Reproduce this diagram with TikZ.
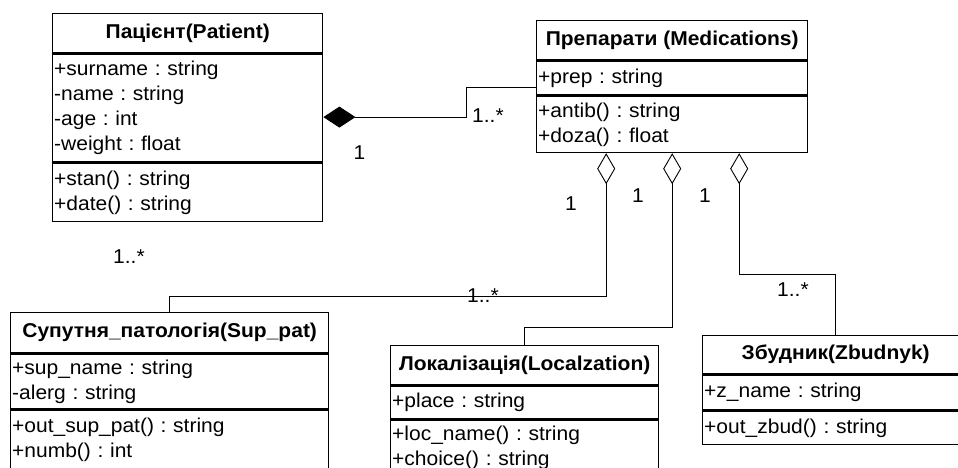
\documentclass[tikz,border=0pt]{standalone}
\usepackage{fontspec}
\setmainfont{Liberation Sans}[FakeStretch=1.05]
\usetikzlibrary{arrows.meta}
\frenchspacing
\begin{document}
\begin{tikzpicture}[x=1pt,y=-1pt,
  hdr/.style={draw, line width=1.4pt, anchor=north west, inner sep=0pt, font=\fontsize{20}{25}\selectfont\bfseries},
  cmp/.style={draw, line width=1.4pt, anchor=north west, inner xsep=1.5pt, inner ysep=0pt, align=left, font=\fontsize{20}{25}\selectfont},
  conn/.style={line width=0.9pt},
  comp/.style={conn, -{Diamond[length=32pt,width=21pt]}},
  agg/.style={conn, -{Diamond[fill=white,length=31pt,width=18pt]}},
  lbl/.style={font=\fontsize{20}{25}\selectfont, inner sep=0pt}]
\clip (0,0) rectangle (958,468);
% Patient
\node[hdr, minimum width=270pt, minimum height=39pt] (pH) at (52,13) {Пацієнт(Patient)};
\node[cmp, text width=267pt, minimum height=108pt] (pA) at (pH.south west) {+surname : string\\-name : string\\-age : int\\-weight : float};
\node[cmp, text width=267pt, minimum height=58pt] (pM) at (pA.south west) {+stan() : string\\+date() : string};
% Medications
\node[hdr, minimum width=271pt, minimum height=39pt] (mH) at (536,20) {Препарати (Medications)};
\node[cmp, text width=268pt, minimum height=34pt] (mA) at (mH.south west) {+prep : string};
\node[cmp, text width=268pt, minimum height=56pt] (mM) at (mA.south west) {+antib() : string\\+doza() : float};
% Sup_pat
\node[hdr, minimum width=318pt, minimum height=40pt] (sH) at (10,312) {Супутня\_патологія(Sup\_pat)};
\node[cmp, text width=315pt, minimum height=55pt] (sA) at (sH.south west) {+sup\_name : string\\-alerg : string};
\node[cmp, text width=315pt, minimum height=58pt] (sM) at (sA.south west) {+out\_sup\_pat() : string\\+numb() : int};
% Localization
\node[hdr, minimum width=268pt, minimum height=39pt] (lH) at (390,345) {Локалізація(Localzation)};
\node[cmp, text width=265pt, minimum height=33pt] (lA) at (lH.south west) {+place : string};
\node[cmp, text width=265pt, minimum height=54pt] (lM) at (lA.south west) {+loc\_name() : string\\+choice() : string};
% Zbudnyk
\node[hdr, minimum width=266pt, minimum height=38pt] (zH) at (702,335) {Збудник(Zbudnyk)};
\node[cmp, text width=263pt, minimum height=35pt] (zA) at (zH.south west) {+z\_name : string};
\node[cmp, text width=263pt, minimum height=33pt] (zM) at (zA.south west) {+out\_zbud() : string};
% connectors
\draw[comp] ([yshift=-9pt]mA.west) -- ++(-70,0) |- ([yshift=-9pt]pA.east);
\draw[agg] (sH.north) -- ++(0,-16) -| ([xshift=-66pt]mM.south);
\draw[agg] (lH.north) -- ++(0,-18) -| (mM.south);
\draw[agg] (zH.north) -- ++(0,-61) -| ([xshift=67pt]mM.south);
% labels
\node[lbl, anchor=base west] (t1) at (472,123) {1..*};
\node[lbl, anchor=base] (t2) at (359.5,159) {1};
\node[lbl, anchor=base west] (t3) at (113,263) {1..*};
\node[lbl, anchor=base west] (t4) at (467,302) {1..*};
\node[lbl, anchor=base west] (t5) at (777,296) {1..*};
\node[lbl, anchor=base] (t6) at (571,210) {1};
\node[lbl, anchor=base] (t7) at (638,202) {1};
\node[lbl, anchor=base] (t8) at (705,202) {1};
\end{tikzpicture}
\end{document}
